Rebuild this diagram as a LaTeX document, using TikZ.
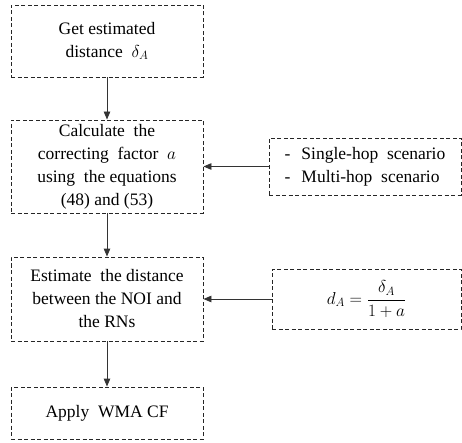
\documentclass[tikz,border=0pt]{standalone}
\usepackage{fontspec}
\setmainfont{Liberation Serif}
\usetikzlibrary{arrows.meta}
\begin{document}
\begin{tikzpicture}[x=1pt,y=1pt,
  box/.style={draw=black!85, dashed, dash pattern=on 4pt off 2.5pt, line width=0.9pt,
    minimum width=192pt, inner sep=0pt, align=center,
    font=\fontsize{17.5}{23}\selectfont},
  arr/.style={draw=black!80, line width=0.9pt, -{Triangle[length=8pt,width=6.5pt]}}]
\useasboundingbox (0,0) rectangle (462,-443);
\node[box, minimum height=72pt] (b1) at (107,-41) {Get estimated\\distance~~$\delta_A$};
\node[box, minimum height=93pt] (b2) at (107,-166.5) {Calculate~ the\\correcting~ factor~ $a$\\using~ the equations\\(48) and (53)};
\node[box, minimum height=84pt] (b3) at (107,-299) {Estimate~ the distance\\between the NOI and\\the RNs};
\node[box, minimum height=52pt] (b4) at (107,-413) {Apply~ WMA CF};
\node[box, minimum width=192pt, minimum height=57pt, align=left] (r1) at (365,-166.5)
  {-\hspace{11pt}Single-hop~ scenario\\-\hspace{11pt}Multi-hop~ scenario};
\node[box, minimum width=189pt, minimum height=60pt] (r2) at (366.5,-299)
  {$\displaystyle d_A = \frac{\delta_A}{1+a}$};
\draw[arr] (b1) -- (b2);
\draw[arr] (b2) -- (b3);
\draw[arr] (b3) -- (b4);
\draw[arr] (r1) -- (b2);
\draw[arr] (r2) -- (b3);
\end{tikzpicture}
\end{document}
